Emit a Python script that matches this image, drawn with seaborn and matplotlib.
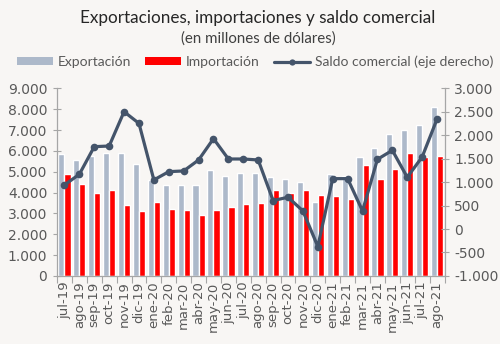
import numpy as np
import pandas as pd
import matplotlib
matplotlib.use("Agg")
import matplotlib.pyplot as plt
import seaborn as sns
from matplotlib.ticker import FuncFormatter, FixedLocator
from matplotlib.patches import Patch
from matplotlib.lines import Line2D

months = ["jul-19", "ago-19", "sep-19", "oct-19", "nov-19", "dic-19",
          "ene-20", "feb-20", "mar-20", "abr-20", "may-20", "jun-20",
          "jul-20", "ago-20", "sep-20", "oct-20", "nov-20", "dic-20",
          "ene-21", "feb-21", "mar-21", "abr-21", "may-21", "jun-21",
          "jul-21", "ago-21"]
exportacion = [5860, 5570, 5740, 5890, 5900, 5380,
               4590, 4380, 4380, 4340, 5090, 4780,
               4930, 4940, 4740, 4670, 4500, 3540,
               4910, 4800, 5730, 6140, 6820, 7020,
               7250, 8130]
importacion = [4900, 4420, 4000, 4130, 3410, 3130,
               3540, 3200, 3150, 2900, 3170, 3300,
               3460, 3500, 4140, 4000, 4130, 3900,
               3840, 3710, 5330, 4670, 5140, 5920,
               5710, 5760]
saldo = [940, 1168, 1757, 1771, 2503, 2254,
         1047, 1224, 1239, 1473, 1928, 1494,
         1494, 1473, 607, 678, 386, -374,
         1075, 1075, 386, 1487, 1679, 1104,
         1537, 2347]

series_names = ["Exportación", "Importación"]
line_name = "Saldo comercial (eje derecho)"
title = "Exportaciones, importaciones y saldo comercial"
subtitle = "(en millones de dólares)"

c_exp = "#adb9ca"
c_imp = "#ff0000"
c_line = "#44546a"
c_text = "#595959"
c_axis = "#a6a6a6"
bg = "#f8f6f4"

sns.set_theme(style="white")
plt.rcParams["font.family"] = ["DejaVu Sans"]

df = pd.DataFrame({
    "mes": months * 2,
    "valor": exportacion + importacion,
    "serie": [series_names[0]] * len(months) + [series_names[1]] * len(months),
})

fig = plt.figure(figsize=(5.0, 3.44), dpi=100, facecolor=bg)
ax = fig.add_axes([0.114, 0.198, 0.775, 0.545])
ax.set_facecolor("none")

sns.barplot(data=df, x="mes", y="valor", hue="serie", order=months,
            hue_order=series_names, palette=[c_exp, c_imp], width=0.82,
            saturation=1, ax=ax, legend=False, errorbar=None)

ax2 = ax.twinx()
sns.lineplot(x=np.arange(len(months)), y=saldo, ax=ax2, color=c_line,
             linewidth=2.3, marker="o", markersize=5.5, markeredgewidth=0,
             legend=False)

ax.set_xlim(-0.5, len(months) - 0.5)
ax.set_ylim(0, 9000)
ax2.set_ylim(-1000, 3000)
ax.set_yticks(np.arange(0, 9001, 1000))
ax2.set_yticks(np.arange(-1000, 3001, 500))

fmt = FuncFormatter(lambda v, p: f"{v:,.0f}".replace(",", "."))
ax.yaxis.set_major_formatter(fmt)
ax2.yaxis.set_major_formatter(fmt)

ax.set_xlabel("")
ax.set_ylabel("")
ax2.set_ylabel("")
ax.set_xticks(np.arange(len(months)))
ax.set_xticklabels(months, rotation=90)
ax.xaxis.set_minor_locator(FixedLocator(np.arange(-0.5, len(months), 1)))
ax.tick_params(axis="x", which="major", length=0, pad=4, labelsize=9.5,
               labelcolor=c_text)
ax.tick_params(axis="x", which="minor", length=5, width=0.8, color=c_axis,
               direction="out", bottom=True)
ax.tick_params(axis="y", length=6, width=0.8, color=c_axis, direction="inout",
               labelsize=10, labelcolor=c_text, left=True, pad=4)
ax2.tick_params(axis="y", length=6, width=0.8, color=c_axis, direction="inout",
                labelsize=10, labelcolor=c_text, right=True, pad=4)

for a in (ax, ax2):
    for s in a.spines.values():
        s.set_visible(False)
ax.spines["left"].set_visible(True)
ax.spines["bottom"].set_visible(True)
ax2.spines["right"].set_visible(True)
for s in (ax.spines["left"], ax.spines["bottom"], ax2.spines["right"]):
    s.set_color(c_axis)
    s.set_linewidth(0.9)
ax.grid(False)
ax2.grid(False)

fig.text(0.516, 0.948, title, ha="center", va="center", fontsize=12.3,
         color="#262626", family="Lato")
fig.text(0.516, 0.888, subtitle, ha="center", va="center", fontsize=10.8,
         color="#404040", family="Lato")

handles = [Patch(facecolor=c_exp, edgecolor="none"),
           Patch(facecolor=c_imp, edgecolor="none"),
           Line2D([0], [0], color=c_line, lw=2.3, marker="o", markersize=4.5,
                  markeredgewidth=0)]
leg = fig.legend(handles, series_names + [line_name], ncol=3, loc="center",
                 bbox_to_anchor=(0.51, 0.82), frameon=False,
                 prop={"family": "Lato", "size": 10},
                 handlelength=2.6, handleheight=0.55, handletextpad=0.35,
                 columnspacing=1.0, borderaxespad=0, labelcolor=c_text)

fig.savefig("out.png", dpi=100, facecolor=bg)
